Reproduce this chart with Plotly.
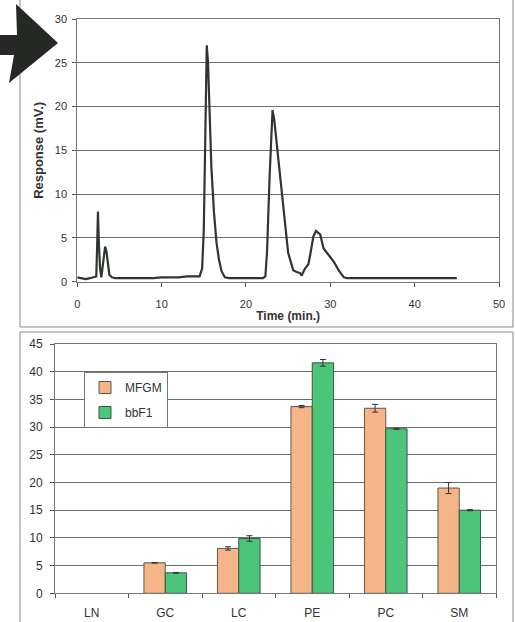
import plotly.graph_objects as go

# ---- Chromatogram (top) ----
time_min = [0, 0.5, 1.0, 1.5, 2.0, 2.25, 2.35, 2.45, 2.55, 2.7, 2.85, 3.0, 3.15, 3.3, 3.45, 3.6, 3.8, 4.1,
            4.5, 5, 6, 7, 8, 9, 10, 11, 12, 13, 14, 14.5, 14.8, 15.0, 15.2, 15.35, 15.5, 15.7, 15.9,
            16.2, 16.5, 16.8, 17.1, 17.5, 18, 19, 20, 21, 22, 22.3, 22.5, 22.8, 23.0, 23.15, 23.35,
            23.6, 24.2, 24.6, 25.0, 25.6, 26.0, 26.4, 26.6, 27.0, 27.4, 27.6, 28.0, 28.3, 28.8, 29.2,
            29.8, 30.4, 31.0, 31.6, 32, 33, 34, 35, 36, 37, 38, 39, 40, 41, 42, 43, 44, 45]
response_mv = [0.5, 0.4, 0.3, 0.4, 0.5, 0.6, 4.0, 8.0, 4.5, 1.5, 0.5, 1.5, 3.0, 4.0, 3.5, 2.0, 0.8, 0.5,
               0.4, 0.4, 0.4, 0.4, 0.4, 0.4, 0.5, 0.5, 0.5, 0.6, 0.6, 0.6, 1.5, 6.0, 18.0, 27.0, 25.0, 18.0, 13.0,
               8.0, 4.5, 2.5, 1.2, 0.5, 0.4, 0.4, 0.4, 0.4, 0.4, 0.6, 3.5, 12.0, 17.5, 19.6, 18.5,
               16.2, 10.8, 6.3, 3.3, 1.3, 1.1, 1.0, 0.7, 1.5, 2.0, 3.0, 5.2, 5.8, 5.4, 3.8,
               3.0, 2.3, 1.3, 0.5, 0.4, 0.4, 0.4, 0.4, 0.4, 0.4, 0.4, 0.4, 0.4, 0.4, 0.4, 0.4, 0.4, 0.4]

# ---- Phospholipid composition (bottom) ----
categories = ["LN", "GC", "LC", "PE", "PC", "SM"]
mfgm_values = [None, 5.5, 8.1, 33.7, 33.4, 19.0]
mfgm_errors = [None, 0.05, 0.3, 0.2, 0.7, 1.0]
bbf1_values = [None, 3.7, 9.9, 41.6, 29.7, 15.0]
bbf1_errors = [None, 0.05, 0.5, 0.6, 0.1, 0.1]

W, H = 515, 622
def px(x): return x / W
def py(y): return 1 - y / H

FONT = "Arial, Liberation Sans, sans-serif"
GRID = "#66736a"
TXT = "#333333"

fig = go.Figure()
fig.add_trace(go.Scatter(x=time_min, y=response_mv, mode="lines",
                         line=dict(color="#2f352f", width=2.2), showlegend=False,
                         xaxis="x", yaxis="y"))

fig.add_trace(go.Bar(x=categories, y=mfgm_values, name="MFGM",
                     marker=dict(color="#f5b589", line=dict(color="#5a5a4a", width=1)),
                     error_y=dict(type="data", array=mfgm_errors, color="#333", thickness=1, width=3),
                     xaxis="x2", yaxis="y2", legendgroup="a"))
fig.add_trace(go.Bar(x=categories, y=bbf1_values, name="bbF1",
                     marker=dict(color="#4cc47a", line=dict(color="#3a5a40", width=1)),
                     error_y=dict(type="data", array=bbf1_errors, color="#333", thickness=1, width=3),
                     xaxis="x2", yaxis="y2", legendgroup="b"))

shapes = [
    # outer frames
    dict(type="rect", xref="paper", yref="paper", x0=px(20), x1=px(513), y0=py(327), y1=py(-2),
         line=dict(color="#888", width=1)),
    dict(type="rect", xref="paper", yref="paper", x0=px(20), x1=px(513), y0=py(625), y1=py(332),
         line=dict(color="#888", width=1)),
    # arrow
    dict(type="path", xref="paper", yref="paper",
         path=f"M {px(0)} {py(35)} L {px(17)} {py(35)} L {px(16)} {py(4)} L {px(58)} {py(43)} "
              f"L {px(9)} {py(83)} L {px(14)} {py(55)} L {px(0)} {py(55)} Z",
         fillcolor="#262826", line=dict(color="#262826", width=0)),
]

axis_common = dict(showline=True, linecolor="#777", mirror=True, ticks="outside", ticklen=4,
                   tickcolor="#555", tickfont=dict(family=FONT, size=11, color=TXT), zeroline=False,
                   automargin=False)
big_tick = dict(family=FONT, size=12, color=TXT)

fig.update_layout(
    width=W, height=H, margin=dict(l=0, r=0, t=0, b=0, autoexpand=False),
    paper_bgcolor="white", plot_bgcolor="white",
    font=dict(family=FONT, color=TXT),
    shapes=shapes,
    barmode="group", bargap=0.42, bargroupgap=0,
    xaxis=dict(domain=[px(77.3), px(499)], range=[0, 50], dtick=10, showgrid=False,
               ticklabelstandoff=8,
               title=dict(text="<b>Time (min.)</b>", font=dict(size=12, family=FONT), standoff=2),
               anchor="y", **axis_common),
    yaxis=dict(domain=[py(281.7), py(19)], range=[0, 30], dtick=5, showgrid=True,
               gridcolor=GRID, gridwidth=1, ticklabelstandoff=3,
               title=dict(text="<b>Response (mV.)</b>", font=dict(size=13, family=FONT), standoff=8),
               anchor="x", **axis_common),
    xaxis2=dict(domain=[px(55), px(496)], showgrid=False, anchor="y2", tickson="boundaries",
                ticklabelstandoff=8, **{**axis_common, "tickfont": big_tick}),
    yaxis2=dict(domain=[py(593.3), py(344)], range=[0, 45], dtick=5, showgrid=True,
                gridcolor=GRID, gridwidth=1, anchor="x2", ticklabelstandoff=5,
                **{**axis_common, "tickfont": big_tick}),
    legend=dict(x=px(84), y=py(372), xanchor="left", yanchor="top",
                bordercolor="#777", borderwidth=1, bgcolor="white",
                font=dict(family=FONT, size=12, color=TXT), tracegroupgap=6,
                traceorder="grouped", itemwidth=30),
)

fig.write_html("out.html", config={"displayModeBar": False},
               post_script="document.body.style.margin='0';document.body.style.padding='0';"
                           "document.documentElement.style.overflow='hidden';")
